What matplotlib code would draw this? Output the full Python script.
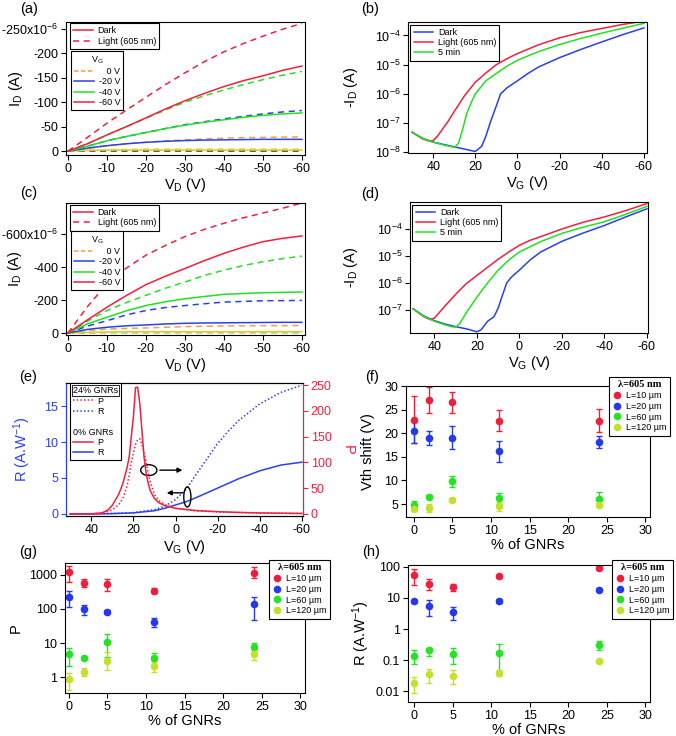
import matplotlib
matplotlib.use('Agg')
import matplotlib.pyplot as plt
from matplotlib.lines import Line2D
from matplotlib.patches import Ellipse
import numpy as np

# ---------------- data ----------------
# (a) output curves, 0 % GNRs, |I_D| in uA
vd_a = [0, -5, -10, -15, -20, -25, -30, -35, -40, -45, -50, -55, -60]
a_dark_m60 = [0, 15, 33, 50, 68, 86, 103, 118, 132, 144, 154, 165, 174]
a_light_m60 = [0, 28, 57, 84, 110, 136, 160, 183, 203, 220, 235, 249, 261]
a_dark_m40 = [0, 10, 21, 30, 38, 46, 53, 59, 64, 69, 73, 76, 78]
a_light_m40 = [0, 15, 33, 50, 67, 84, 100, 113, 125, 136, 146, 155, 163]
a_dark_m20 = [0, 6, 11, 15, 18, 20, 21.5, 22.5, 23, 23.5, 24, 24, 24]
a_light_m20 = [0, 10, 21, 30, 38, 46, 54, 60, 66, 71, 76, 80, 83]
a_dark_0 = [0, 1.5, 2, 2, 2, 2, 2, 2, 2, 2, 2, 2, 2]
a_light_0 = [0, 6, 11, 15, 18, 21, 23, 25, 26.5, 27.5, 28, 28.5, 29]
a_extra_1 = [0, 2, 3, 3.5, 4, 4, 4, 4, 4, 4, 4, 4, 4]
a_extra_2 = [0, 0.5, 0.5, 0.5, 0.5, 0.5, 0.5, 0.5, 0.5, 0.5, 0.5, 0.5, 0.5]

# (c) output curves, 24 % GNRs, |I_D| in uA
vd_c = [0, -5, -10, -15, -20, -25, -30, -35, -40, -45, -50, -55, -60]
c_dark_m60 = [0, 80, 157, 228, 294, 345, 392, 440, 484, 522, 555, 575, 590]
c_light_m60 = [0, 160, 300, 395, 473, 532, 586, 630, 667, 700, 729, 758, 790]
c_dark_m40 = [0, 55, 96, 135, 167, 190, 208, 222, 235, 240, 245, 247, 249]
c_light_m40 = [0, 72, 137, 185, 229, 272, 310, 350, 382, 410, 433, 452, 467]
c_dark_m20 = [0, 22, 35, 44, 49, 55, 59, 61, 62, 63, 64, 65, 65]
c_light_m20 = [0, 42, 75, 110, 137, 155, 167, 178, 188, 192, 196, 197, 198]
c_dark_0 = [0, 4, 6, 7, 8, 8, 8, 8, 8, 8, 8, 8, 8]
c_light_0 = [0, 15, 24, 28, 31, 35, 39, 41, 43, 44, 45, 45, 46]
c_extra_1 = [0, 3, 4, 5, 5, 5, 5, 5, 5, 5, 5, 5, 5]
c_extra_2 = [0, 1, 2, 2, 2, 2, 2, 2, 2, 2, 2, 2, 2]

# (b) transfer curves, 0 % GNRs, -I_D in A
vg_b_dark = [50, 45, 40, 35, 30, 25, 20, 17, 15, 13, 11, 8, 5, 0, -5, -10, -20, -30, -40, -50, -60]
b_dark = [4.8e-8, 2.95e-8, 2.19e-8, 1.82e-8, 1.51e-8, 1.26e-8, 1.05e-8, 1.58e-8, 3.55e-8, 1.0e-7,
          2.5e-7, 1.0e-6, 1.6e-6, 2.8e-6, 5.0e-6, 8.3e-6, 1.74e-5, 3.3e-5, 6.0e-5, 1.07e-4, 1.82e-4]
vg_b_light = [50, 45, 42, 40, 38, 35, 33, 30, 25, 20, 15, 10, 5, 0, -10, -20, -30, -40, -50, -60]
b_light = [4.8e-8, 2.8e-8, 2.4e-8, 2.5e-8, 3.5e-8, 7.1e-8, 1.12e-7, 2.5e-7, 8.9e-7, 2.5e-6, 5.2e-6,
           1.0e-5, 1.6e-5, 2.4e-5, 4.8e-5, 8.3e-5, 1.26e-4, 1.74e-4, 2.4e-4, 3.1e-4]
vg_b_5min = [50, 45, 40, 35, 30, 28, 26, 24, 22, 20, 15, 10, 5, 0, -10, -20, -30, -40, -50, -60]
b_5min = [4.8e-8, 2.9e-8, 2.2e-8, 1.74e-8, 1.45e-8, 2.0e-8, 6.3e-8, 2.2e-7, 5.0e-7, 1.0e-6, 2.8e-6,
          5.0e-6, 8.9e-6, 1.41e-5, 2.8e-5, 4.9e-5, 7.9e-5, 1.2e-4, 1.78e-4, 2.6e-4]

# (d) transfer curves, 24 % GNRs
vg_d_dark = [50, 45, 40, 35, 30, 25, 20, 18, 15, 12, 10, 8, 6, 4, 2, 0, -5, -10, -20, -30, -40, -50, -60]
d_dark = [1.1e-7, 6.0e-8, 4.0e-8, 3.0e-8, 2.4e-8, 2.0e-8, 1.55e-8, 1.86e-8, 3.8e-8, 5.6e-8, 1.17e-7,
          3.5e-7, 1.0e-6, 1.58e-6, 2.2e-6, 3.0e-6, 7.1e-6, 1.41e-5, 3.5e-5, 7.1e-5, 1.35e-4, 2.8e-4, 5.6e-4]
vg_d_light = [50, 45, 42, 40, 35, 30, 25, 20, 15, 10, 5, 0, -5, -10, -20, -30, -40, -50, -60]
d_light = [1.1e-7, 5.6e-8, 4.4e-8, 5.0e-8, 1.41e-7, 3.8e-7, 9.5e-7, 1.9e-6, 3.8e-6, 7.6e-6, 1.41e-5,
           2.5e-5, 3.8e-5, 5.2e-5, 1.0e-4, 1.78e-4, 2.8e-4, 4.8e-4, 8.7e-4]
vg_d_5min = [50, 45, 40, 35, 32, 30, 28, 25, 20, 15, 10, 5, 0, -10, -20, -30, -40, -50, -60]
d_5min = [1.1e-7, 5.8e-8, 3.8e-8, 2.8e-8, 2.4e-8, 2.3e-8, 3.2e-8, 7.9e-8, 3.0e-7, 1.0e-6, 3.0e-6,
          7.1e-6, 1.41e-5, 3.4e-5, 6.9e-5, 1.17e-4, 1.86e-4, 3.5e-4, 6.9e-4]

# (e) photosensitivity P and responsivity R
vg_p0 = [50, 40, 35, 32, 30, 27, 25, 23, 22, 21, 20, 19, 18, 17, 16, 15, 14, 13, 12, 10, 8, 5, 0,
         -10, -20, -30, -40, -50, -60]
p_0 = [0, 0.5, 2, 8, 17, 38, 59, 90, 111, 150, 189, 245, 246, 215, 165, 112, 80, 60, 45, 30, 22, 16, 11,
       6.5, 4.5, 3, 2, 1.5, 1]
vg_p24 = [50, 40, 35, 30, 27, 25, 23, 22, 21, 20, 19, 18, 17, 16, 15, 14, 13, 12, 11, 10, 8, 5, 0,
          -10, -20, -30, -40, -50, -60]
p_24 = [0, 0.3, 1, 8, 18, 30, 55, 75, 100, 118, 135, 144, 146, 135, 120, 100, 80, 62, 50, 38, 26, 18, 11,
        6, 4, 3, 2, 1.5, 1]
vg_r0 = [50, 40, 30, 20, 10, 5, 0, -5, -10, -20, -30, -40, -50, -60]
r_0 = [0, 0.01, 0.05, 0.15, 0.45, 0.8, 1.25, 1.7, 2.3, 3.6, 4.9, 6.0, 6.8, 7.2]
vg_r24 = [50, 40, 30, 20, 10, 5, 0, -5, -10, -15, -20, -25, -30, -40, -50, -60]
r_24 = [0, 0.02, 0.07, 0.2, 0.6, 1.1, 2.0, 3.4, 5.6, 7.7, 9.8, 11.5, 13.0, 15.3, 16.9, 17.9]

# (f)-(h) vs % of GNRs, for four channel lengths
gnr = [0, 2, 5, 11, 24]
lengths = ['L=10 µm', 'L=20 µm', 'L=60 µm', 'L=120 µm']

vth = [[22.9, 27.1, 26.6, 22.7, 22.7],
       [20.5, 19.1, 19.1, 16.2, 18.1],
       [4.9, 6.6, 9.8, 6.2, 6.1],
       [4.0, 4.2, 5.9, 4.5, 4.9]]
vth_err = [[5.0, 2.7, 2.2, 2.3, 2.4],
           [2.5, 1.5, 2.4, 2.2, 1.3],
           [0.8, 0.3, 1.2, 1.2, 1.4],
           [0.4, 0.8, 0.3, 0.9, 0.3]]

p_val = [[1250, 568, 543, 345, 1170],
         [229, 97, 83, 42, 136],
         [4.7, 3.7, 10.7, 3.7, 7.4],
         [0.85, 1.4, 2.9, 2.1, 4.7]]
p_lo = [[635, 433, 345, 300, 800],
        [116, 66, 72, 30, 47],
        [2.1, 3.3, 3.9, 3.1, 5.5],
        [0.42, 1.1, 1.6, 1.4, 3.2]]
p_hi = [[1840, 745, 760, 400, 1680],
        [337, 130, 95, 56, 220],
        [7.3, 4.1, 18.2, 5.1, 10.1],
        [1.3, 1.8, 5.5, 2.8, 6.4]]

r_val = [[56, 29, 22, 50, 93],
         [7.7, 5.6, 3.6, 8.1, 18.4],
         [0.14, 0.21, 0.16, 0.17, 0.30],
         [0.018, 0.036, 0.031, 0.038, 0.091]]
r_lo = [[27, 18, 16.2, 45, 88],
        [6.8, 2.6, 2.0, 7.0, 16.5],
        [0.077, 0.14, 0.073, 0.041, 0.21],
        [0.0087, 0.018, 0.017, 0.031, 0.085]]
r_hi = [[86, 41, 29, 56, 99],
        [8.7, 8.3, 5.3, 9.3, 20.5],
        [0.21, 0.25, 0.25, 0.32, 0.40],
        [0.028, 0.053, 0.047, 0.047, 0.098]]

# ---------------- style ----------------
plt.rcParams['font.family'] = ['Liberation Sans', 'DejaVu Sans']
plt.rcParams['mathtext.fontset'] = 'custom'
plt.rcParams['mathtext.rm'] = 'Liberation Sans'
plt.rcParams['mathtext.it'] = 'Liberation Sans:italic'
plt.rcParams['mathtext.default'] = 'regular'
plt.rcParams['axes.linewidth'] = 0.8

RED = '#f0203e'
BLUE = '#2a40ee'
GREEN = '#22e022'
ORANGE = '#f2a23c'
YGREEN = '#c4e030'
PT_COLORS = ['#f01e3c', '#2638ee', '#22e422', '#c2e02c']

W, H = 676, 736
fig = plt.figure(figsize=(W / 100, H / 100), dpi=100)


def add_ax(l, t, r, b):
    return fig.add_axes([l / W, 1 - b / H, (r - l) / W, (b - t) / H])


def style_ax(ax):
    ax.tick_params(direction='out', length=3.5, width=0.8, labelsize=9, pad=2)
    ax.minorticks_off()


def box_legend(leg):
    fr = leg.get_frame()
    fr.set_edgecolor('black')
    fr.set_linewidth(0.8)
    fr.set_alpha(1)
    return leg


def panel_label(txt, x, y):
    fig.text(x / W, 1 - y / H, txt, ha='center', va='center', fontsize=10.5)


leg_kw = dict(fontsize=6.5, fancybox=False, handlelength=2.2, handletextpad=0.5,
              labelspacing=0.15, borderpad=0.35, borderaxespad=0)


# ---------------- (a) and (c): output curves ----------------
def output_panel(ax, vd, curves, ylim, ticks, top_label):
    for vals, col, ls in curves:
        ax.plot(vd, [-v for v in vals], color=col, ls=ls, lw=1.1,
                dashes=(4, 3) if ls == '--' else (None, None))
    ax.set_xlim(0.5, -60.8)
    ax.set_ylim(*ylim)
    ax.set_xticks([0, -10, -20, -30, -40, -50, -60])
    ax.set_xticklabels(['0', '-10', '-20', '-30', '-40', '-50', '-60'])
    ax.set_yticks(ticks)
    labs = [str(t) for t in ticks]
    labs[-1] = top_label
    ax.set_yticklabels(labs)
    ax.get_yticklabels()[-1].set_fontsize(8.2)
    ax.set_xlabel('V$_D$ (V)', fontsize=10.5, labelpad=1)
    ax.set_ylabel('I$_D$ (A)', fontsize=10.5)
    style_ax(ax)

    h1 = [Line2D([], [], color=RED, lw=1.1), Line2D([], [], color=RED, lw=1.1, ls='--', dashes=(4, 3))]
    l1 = ax.legend(h1, ['Dark', 'Light (605 nm)'], loc='upper left', **leg_kw)
    box_legend(l1)
    ax.add_artist(l1)
    return l1


ax_a = add_ax(66, 22, 305, 155)
curves_a = [(a_extra_2, 'black', '--'), (a_dark_0, '#e8c020', '-'), (a_extra_1, YGREEN, '--'),
            (a_light_0, ORANGE, '--'), (a_dark_m20, BLUE, '-'), (a_light_m20, BLUE, '--'),
            (a_dark_m40, GREEN, '-'), (a_light_m40, GREEN, '--'),
            (a_dark_m60, RED, '-'), (a_light_m60, RED, '--')]
l1 = output_panel(ax_a, vd_a, curves_a, (8, -264), [0, -50, -100, -150, -200, -250],
                  '-250x10$^{-6}$')
l1.set_bbox_to_anchor((0.017, 0.99), transform=ax_a.transAxes)
ax_a.yaxis.set_label_coords(-0.172, 0.5)

ax_c = add_ax(66, 203, 305, 335)
curves_c = [(c_extra_2, '#909090', '--'), (c_dark_0, '#e8c020', '-'), (c_extra_1, YGREEN, '--'),
            (c_light_0, ORANGE, '--'), (c_dark_m20, BLUE, '-'), (c_light_m20, BLUE, '--'),
            (c_dark_m40, GREEN, '-'), (c_light_m40, GREEN, '--'),
            (c_dark_m60, RED, '-'), (c_light_m60, RED, '--')]
l1 = output_panel(ax_c, vd_c, curves_c, (12, -790), [0, -200, -400, -600], '-600x10$^{-6}$')
l1.set_bbox_to_anchor((0.017, 0.985), transform=ax_c.transAxes)
ax_c.yaxis.set_label_coords(-0.176, 0.5)

for ax, yy in [(ax_a, 0.782), (ax_c, 0.788)]:
    hg = [Line2D([], [], color=ORANGE, lw=1.1, ls='--', dashes=(3, 1.5)),
          Line2D([], [], color=BLUE, lw=1.1), Line2D([], [], color=GREEN, lw=1.1),
          Line2D([], [], color=RED, lw=1.1)]
    lg = ax.legend(hg, ['   0 V', '-20 V', '-40 V', '-60 V'], title='V$_G$', title_fontsize=6.5,
                   loc='upper left', bbox_to_anchor=(0.021, yy), **leg_kw)
    box_legend(lg)


# ---------------- (b) and (d): transfer curves ----------------
def transfer_panel(ax, data, xlim, ylim, ticks):
    for vg, vals, col in data:
        ax.plot(vg, vals, color=col, lw=1.1)
    ax.set_yscale('log')
    ax.set_xlim(*xlim)
    ax.set_ylim(*ylim)
    ax.set_xticks([40, 20, 0, -20, -40, -60])
    ax.set_xticklabels(['40', '20', '0', '-20', '-40', '-60'])
    ax.set_yticks(ticks)
    ax.set_xlabel('V$_G$ (V)', fontsize=10.5, labelpad=1)
    ax.set_ylabel('-I$_D$ (A)', fontsize=10.5)
    style_ax(ax)
    hd = [Line2D([], [], color=BLUE, lw=1.1), Line2D([], [], color=RED, lw=1.1),
          Line2D([], [], color=GREEN, lw=1.1)]
    lg = ax.legend(hd, ['Dark', 'Light (605 nm)', '5 min'], loc='upper left',
                   bbox_to_anchor=(0.01, 0.98), **leg_kw)
    box_legend(lg)


ax_b = add_ax(408, 22, 647, 153)
transfer_panel(ax_b, [(vg_b_dark, b_dark, BLUE), (vg_b_light, b_light, RED), (vg_b_5min, b_5min, GREEN)],
               (52, -61.5), (9.3e-9, 2.9e-4), [1e-8, 1e-7, 1e-6, 1e-5, 1e-4])
ax_b.yaxis.set_label_coords(-0.20, 0.5)

ax_d = add_ax(410, 202, 648, 333)
transfer_panel(ax_d, [(vg_d_dark, d_dark, BLUE), (vg_d_light, d_light, RED), (vg_d_5min, d_5min, GREEN)],
               (51.5, -60.5), (1.4e-8, 1e-3), [1e-7, 1e-6, 1e-5, 1e-4])
ax_d.yaxis.set_label_coords(-0.21, 0.5)

# ---------------- (e): R and P vs V_G ----------------
ax_e = add_ax(66, 383, 303, 516)
ax_e2 = ax_e.twinx()
ax_e.plot(vg_r0, r_0, color=BLUE, lw=1.1)
ax_e.plot(vg_r24, r_24, color=BLUE, lw=1.1, ls=(0, (1, 1.4)))
ax_e2.plot(vg_p0, p_0, color=RED, lw=1.1)
ax_e2.plot(vg_p24, p_24, color=RED, lw=1.1, ls=(0, (1, 1.4)))
ax_e.set_xlim(52, -60.5)
ax_e.set_ylim(-0.28, 18.2)
ax_e2.set_ylim(-3.9, 254)
ax_e.set_xticks([40, 20, 0, -20, -40, -60])
ax_e.set_xticklabels(['40', '20', '0', '-20', '-40', '-60'])
ax_e.set_yticks([0, 5, 10, 15])
ax_e2.set_yticks([0, 50, 100, 150, 200, 250])
style_ax(ax_e)
style_ax(ax_e2)
ax_e.tick_params(axis='y', colors=BLUE)
ax_e2.tick_params(axis='y', colors=RED)
ax_e2.spines['left'].set_color(BLUE)
ax_e2.spines['right'].set_color(RED)
ax_e.set_xlabel('V$_G$ (V)', fontsize=10.5, labelpad=2)
ax_e.set_ylabel('R (A.W$^{-1}$)', fontsize=10.5, color=BLUE)
ax_e.yaxis.set_label_coords(-0.139, 0.5)
ax_e2.set_ylabel('P', fontsize=10.5, color=RED, rotation=270)
ax_e2.yaxis.set_label_coords(1.219, 0.5)

# circles and arrows pointing to the axes
ax_e2.add_patch(Ellipse((12.7, 85), 7.7, 21, fill=False, ec='black', lw=1))
ax_e2.annotate('', xy=(-4.6, 85), xytext=(8.8, 85),
               arrowprops=dict(arrowstyle='-|>', color='black', lw=1, mutation_scale=7))
ax_e2.add_patch(Ellipse((-5.6, 33), 3.4, 39, fill=False, ec='black', lw=1))
ax_e2.annotate('', xy=(5.5, 41), xytext=(-4.6, 41),
               arrowprops=dict(arrowstyle='-|>', color='black', lw=1, mutation_scale=7))

blank = Line2D([], [], color='none')
he = [blank, Line2D([], [], color=RED, lw=1.1, ls=(0, (1, 1.4))),
      Line2D([], [], color=BLUE, lw=1.1, ls=(0, (1, 1.4))), blank, blank,
      Line2D([], [], color=RED, lw=1.1), Line2D([], [], color=BLUE, lw=1.1)]
le = ax_e2.legend(he, ['24% GNRs', 'P', 'R', ' ', '0% GNRs', 'P', 'R'], loc='upper left',
                  bbox_to_anchor=(0.017, 1.0), **leg_kw)
box_legend(le)
# let the group headers start at the left edge of the box
try:
    rows = le._legend_handle_box.get_children()[0].get_children()
    for i in (0, 4):
        rows[i].get_children()[0].width = 0
        rows[i].sep = 0
except Exception:
    pass
le.get_texts()[0].set_bbox(dict(boxstyle='square,pad=0.12', fc='none', ec='black', lw=0.6))


# ---------------- (f), (g), (h): vs % of GNRs ----------------
def gnr_panel(ax, vals, lo, hi, ylabel, legend_pos):
    for i in range(4):
        y = np.array(vals[i])
        if hi is None:
            err = lo[i]
        else:
            err = [y - np.array(lo[i]), np.array(hi[i]) - y]
        ax.errorbar(gnr, y, yerr=err, fmt='o', color=PT_COLORS[i], ms=5.5, mec='none',
                    elinewidth=1, capsize=2.2, capthick=1)
    ax.set_xticks([0, 5, 10, 15, 20, 25, 30])
    ax.set_xlabel('% of GNRs', fontsize=10.5, labelpad=1)
    ax.set_ylabel(ylabel, fontsize=10.5)
    style_ax(ax)
    hl = [Line2D([], [], color=c, marker='o', ls='none', ms=5.5, mec='none') for c in PT_COLORS]
    lg = ax.legend(hl, lengths, loc='upper right', bbox_to_anchor=(legend_pos[0] / W, 1 - legend_pos[1] / H),
                   bbox_transform=fig.transFigure, fontsize=6.5, fancybox=False, handletextpad=0.4,
                   labelspacing=0.2, borderpad=0.35, borderaxespad=0, handlelength=1.2)
    lg.set_title('λ=605 nm', prop={'family': 'Liberation Serif', 'weight': 'bold', 'size': 7.5})
    box_legend(lg)
    lg.set_zorder(10)


ax_f = add_ax(406, 386, 650, 517)
gnr_panel(ax_f, vth, vth_err, None, 'Vth shift (V)', (670, 377))
ax_f.set_xlim(-1.0, 30.6)
ax_f.set_ylim(2.25, 30.05)
ax_f.set_yticks([5, 10, 15, 20, 25, 30])
ax_f.yaxis.set_label_coords(-0.127, 0.5)

ax_g = add_ax(65, 563, 305, 693)
gnr_panel(ax_g, p_val, p_lo, p_hi, 'P', (330, 560))
ax_g.set_yscale('log')
ax_g.set_xlim(-0.5, 30.6)
ax_g.set_ylim(0.34, 2240)
ax_g.set_yticks([1, 10, 100, 1000])
ax_g.set_yticklabels(['1', '10', '100', '1000'])
ax_g.minorticks_off()
ax_g.yaxis.set_label_coords(-0.175, 0.5)

ax_h = add_ax(408, 565, 650, 702)
gnr_panel(ax_h, r_val, r_lo, r_hi, 'R (A.W$^{-1}$)', (673, 560))
ax_h.set_yscale('log')
ax_h.set_xlim(-0.78, 30.6)
ax_h.set_ylim(0.0045, 115)
ax_h.set_yticks([0.01, 0.1, 1, 10, 100])
ax_h.set_yticklabels(['0.01', '0.1', '1', '10', '100'])
ax_h.minorticks_off()
ax_h.yaxis.set_label_coords(-0.149, 0.5)

# ---------------- panel letters ----------------
panel_label('(a)', 29, 9)
panel_label('(b)', 370, 9)
panel_label('(c)', 29, 193)
panel_label('(d)', 370, 194)
panel_label('(e)', 28, 377)
panel_label('(f)', 372, 377)
panel_label('(g)', 28, 552)
panel_label('(h)', 371, 552)

fig.savefig('out.png', dpi=100)
